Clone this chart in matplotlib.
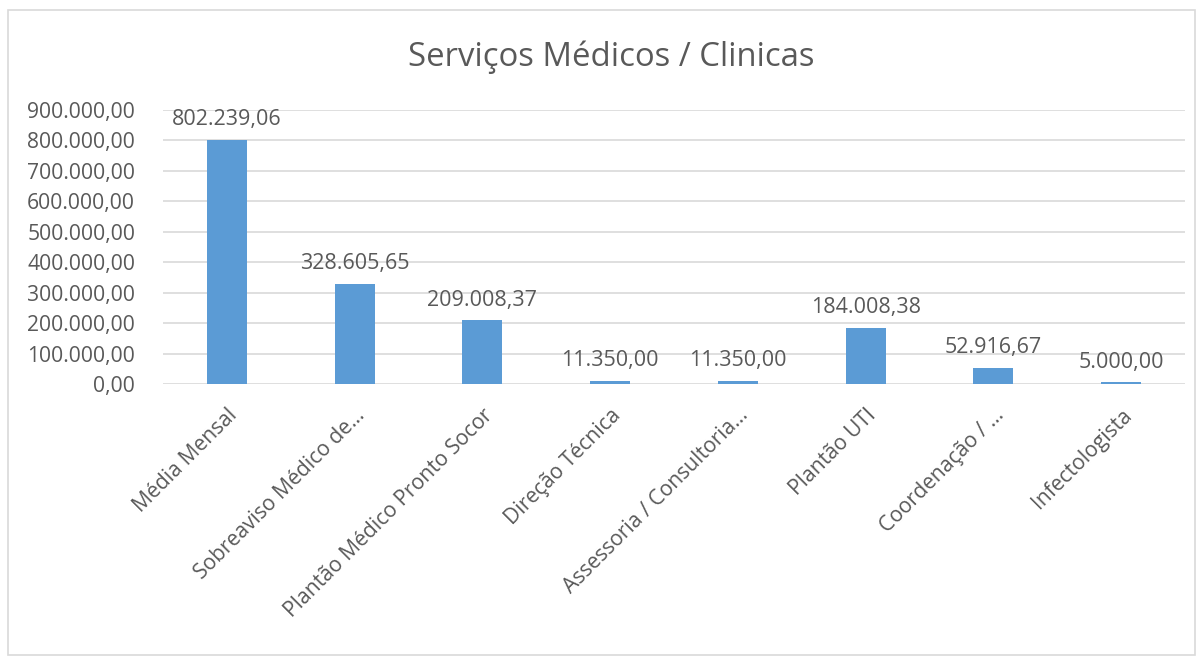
import matplotlib
matplotlib.use("Agg")
import matplotlib.pyplot as plt
from matplotlib.patches import Rectangle
from matplotlib.ticker import FuncFormatter, MultipleLocator
import matplotlib.transforms as mtransforms

categories = ["Média Mensal", "Sobreaviso Médico de…", "Plantão Médico Pronto Socor",
              "Direção Técnica", "Assessoria / Consultoria…", "Plantão UTI",
              "Coordenação / …", "Infectologista"]
values = [802239.06, 328605.65, 209008.37, 11350.00, 11350.00, 184008.38, 52916.67, 5000.00]
title = "Serviços Médicos / Clinicas"

TXT = "#595959"
BAR = "#5B9BD5"
GRID = "#D9D9D9"
FONT = "Open Sans"

def br(v):
    s = f"{v:,.2f}"
    return s.replace(",", "X").replace(".", ",").replace("X", ".")

W, H = 1203, 664
fig = plt.figure(figsize=(W/100, H/100), dpi=100)
fig.patch.set_facecolor("white")
fig.patches.append(Rectangle((8/W, 1-655/H), (1195-8)/W, (655-10)/H,
                             transform=fig.transFigure, fill=False,
                             edgecolor=GRID, linewidth=1.2))

ax = fig.add_axes([163/W, 1-384/H, (1185-163)/W, (384-110)/H])
x = list(range(len(categories)))
ax.bar(x, values, width=0.3125, color=BAR, zorder=3)
ax.set_xlim(-0.5, len(categories)-0.5)
ax.set_ylim(0, 900000)
ax.yaxis.set_major_locator(MultipleLocator(100000))
ax.yaxis.set_major_formatter(FuncFormatter(lambda v, p: br(v)))
ax.grid(axis="y", color=GRID, linewidth=1.2, zorder=0)
for s in ax.spines.values():
    s.set_visible(False)
ax.tick_params(axis="both", length=0, colors=TXT, labelsize=15.2)
ax.tick_params(axis="y", pad=20)
for lab in ax.get_yticklabels():
    lab.set_fontfamily(FONT)

ax.set_xticks(x)
ax.set_xticklabels(categories, rotation=45, ha="right", rotation_mode="anchor",
                   fontfamily=FONT, fontsize=15.2, color=TXT)
offset = mtransforms.ScaledTranslation(-2/100, 0, fig.dpi_scale_trans)
for lab in ax.get_xticklabels():
    lab.set_transform(lab.get_transform() + offset)
ax.tick_params(axis="x", pad=15)

for xi, v in zip(x, values):
    ax.annotate(br(v), (xi, v), xytext=(0, 7), textcoords="offset points",
                ha="center", va="bottom", fontsize=15.5, fontfamily=FONT, color=TXT)

fig.text(611/W, 1-57/H, title, ha="center", va="center", fontsize=23.7,
         fontfamily=FONT, color=TXT)

fig.savefig("out.png", dpi=100, facecolor="white")
